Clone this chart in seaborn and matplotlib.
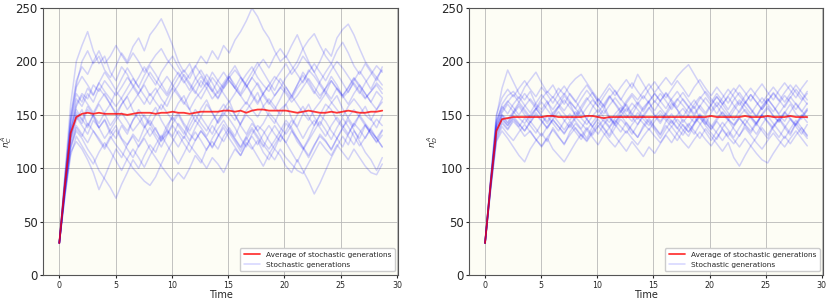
import numpy as np
import pandas as pd
import seaborn as sns
from matplotlib import pyplot as plt

# end time of the simulated runs (x axis)
t_end = 28.7

# average of the stochastic runs, read every 0.5 time unit
avg_c = [30, 85, 133, 148, 151, 152, 151, 152, 151, 151,
         151, 151, 150, 151, 152, 152, 152, 151, 152, 152,
         153, 152, 152, 151, 152, 153, 153, 153, 153, 154,
         154, 153, 154, 152, 154, 155, 155, 154, 154, 154,
         154, 153, 152, 153, 154, 153, 152, 152, 153, 152,
         153, 154, 153, 152, 152, 153, 153, 154]
avg_d = [30, 86, 135, 146, 147, 148, 148, 148, 148, 148,
         148, 149, 149, 148, 148, 148, 148, 148, 149, 149,
         148, 147, 148, 148, 148, 148, 148, 148, 148, 148,
         148, 148, 148, 148, 148, 148, 148, 148, 148, 148,
         149, 148, 148, 148, 148, 148, 149, 148, 148, 148,
         149, 148, 148, 148, 149, 148, 148, 148]

# individual stochastic generations (estimated), n_C^A
runs_c = [
    [30, 90, 145, 178, 200, 210, 198, 205, 192, 185,
     196, 208, 200, 214, 222, 210, 225, 232, 240, 228,
     215, 200, 190, 198, 185, 176, 188, 180, 170, 178,
     186, 175, 168, 160, 172, 180, 170, 162, 155, 165,
     176, 168, 178, 190, 182, 172, 165, 175, 186, 178,
     168, 175, 184, 176, 166, 172, 180, 174],
    [30, 78, 120, 135, 128, 118, 110, 98, 90, 82,
     72, 85, 96, 108, 100, 112, 122, 115, 128, 136,
     130, 142, 135, 126, 138, 148, 140, 132, 145, 152,
     146, 138, 128, 120, 132, 140, 135, 126, 118, 130,
     142, 136, 125, 118, 128, 140, 150, 144, 135, 128,
     120, 132, 142, 136, 128, 138, 146, 140],
    [30, 85, 132, 160, 170, 165, 178, 172, 182, 175,
     168, 176, 185, 178, 170, 180, 190, 182, 175, 168,
     176, 185, 192, 184, 195, 205, 198, 210, 202, 215,
     208, 220, 228, 238, 250, 242, 230, 222, 210, 200,
     205, 196, 188, 180, 192, 186, 178, 170, 182, 175,
     168, 176, 185, 178, 170, 162, 172, 166],
    [30, 82, 128, 150, 142, 155, 148, 138, 146, 135,
     128, 140, 132, 145, 152, 140, 130, 138, 126, 132,
     142, 150, 140, 132, 126, 135, 128, 120, 130, 138,
     128, 120, 112, 124, 118, 126, 115, 108, 118, 112,
     102, 96, 108, 98, 88, 76, 86, 98, 110, 120,
     130, 122, 135, 128, 140, 132, 125, 135],
    [30, 86, 138, 165, 158, 170, 162, 175, 168, 160,
     172, 165, 155, 162, 170, 178, 168, 175, 165, 158,
     170, 178, 188, 180, 172, 165, 175, 185, 178, 170,
     162, 170, 180, 188, 195, 185, 178, 172, 182, 190,
     198, 188, 195, 205, 198, 190, 200, 212, 205, 222,
     230, 235, 225, 212, 200, 192, 185, 178],
    [30, 80, 125, 145, 155, 140, 150, 138, 145, 132,
     140, 128, 122, 130, 120, 128, 118, 110, 102, 95,
     88, 96, 90, 100, 112, 105, 118, 125, 118, 130,
     138, 130, 142, 150, 145, 135, 142, 152, 146, 138,
     132, 140, 150, 158, 148, 140, 150, 160, 155, 145,
     138, 148, 155, 148, 140, 134, 128, 136],
    [30, 95, 160, 200, 215, 228, 210, 198, 205, 190,
     182, 195, 188, 176, 185, 195, 186, 178, 190, 198,
     205, 195, 186, 178, 170, 182, 175, 165, 172, 180,
     188, 196, 186, 178, 170, 162, 170, 178, 168, 175,
     185, 192, 200, 212, 220, 226, 215, 205, 198, 210,
     218, 208, 196, 188, 198, 190, 182, 195],
    [30, 75, 115, 125, 118, 108, 96, 80, 92, 105,
     118, 110, 122, 132, 125, 138, 145, 136, 128, 140,
     148, 140, 132, 145, 155, 148, 160, 152, 142, 150,
     158, 150, 140, 132, 142, 135, 125, 118, 126, 135,
     145, 138, 128, 120, 112, 122, 130, 125, 118, 128,
     138, 145, 136, 125, 115, 108, 98, 110],
    [30, 88, 142, 170, 162, 175, 168, 180, 172, 165,
     158, 166, 175, 184, 176, 168, 160, 170, 178, 186,
     178, 170, 162, 155, 165, 172, 180, 172, 165, 175,
     182, 175, 168, 176, 185, 178, 168, 160, 168, 176,
     170, 162, 168, 176, 184, 176, 168, 175, 182, 174,
     166, 172, 180, 172, 165, 172, 178, 170],
    [30, 80, 128, 148, 140, 132, 145, 138, 128, 136,
     145, 152, 144, 135, 142, 150, 142, 132, 125, 135,
     128, 120, 130, 122, 115, 108, 100, 110, 104, 96,
     108, 118, 112, 122, 130, 122, 132, 140, 132, 125,
     135, 145, 138, 128, 138, 145, 138, 130, 140, 148,
     140, 132, 142, 150, 142, 135, 128, 120],
    [30, 84, 135, 158, 168, 160, 152, 162, 170, 160,
     152, 160, 168, 176, 168, 160, 170, 162, 155, 165,
     175, 168, 160, 170, 178, 186, 178, 190, 182, 175,
     185, 192, 185, 176, 185, 195, 202, 194, 205, 212,
     204, 215, 225, 212, 200, 190, 180, 172, 165, 175,
     168, 160, 170, 178, 170, 162, 155, 165],
    [30, 82, 130, 152, 145, 158, 150, 142, 152, 160,
     150, 142, 135, 145, 155, 148, 140, 150, 160, 152,
     145, 152, 142, 135, 145, 138, 130, 140, 132, 125,
     135, 128, 120, 130, 138, 130, 122, 115, 108, 118,
     110, 104, 98, 95, 105, 115, 125, 118, 112, 122,
     115, 108, 118, 110, 102, 96, 94, 104],
    [30, 78, 118, 138, 130, 142, 135, 128, 120, 130,
     122, 115, 108, 100, 94, 88, 84, 92, 104, 115,
     125, 135, 128, 140, 150, 142, 135, 145, 152, 160,
     152, 145, 155, 162, 155, 148, 158, 165, 158, 150,
     160, 168, 160, 152, 145, 155, 162, 170, 162, 155,
     148, 158, 165, 158, 150, 145, 155, 162],
    [30, 92, 150, 182, 195, 188, 200, 210, 198, 205,
     215, 206, 198, 208, 200, 190, 198, 206, 212, 202,
     195, 188, 180, 188, 196, 188, 180, 172, 182, 190,
     182, 175, 185, 178, 168, 160, 170, 178, 186, 180,
     172, 165, 175, 182, 190, 198, 190, 182, 192, 200,
     194, 186, 178, 170, 180, 188, 196, 190],
    [30, 84, 136, 155, 146, 138, 150, 160, 151, 140,
     148, 160, 167, 154, 146, 138, 149, 157, 145, 136,
     150, 161, 168, 155, 144, 156, 164, 152, 143, 155,
     163, 150, 141, 154, 162, 171, 158, 149, 142, 155,
     160, 147, 139, 151, 160, 148, 140, 153, 161, 168,
     156, 147, 139, 150, 158, 146, 138, 150],
    [30, 76, 122, 140, 132, 124, 135, 126, 118, 128,
     136, 127, 118, 110, 121, 130, 138, 129, 120, 131,
     140, 132, 123, 115, 126, 135, 128, 119, 130, 141,
     133, 125, 116, 127, 136, 128, 120, 131, 140, 132,
     124, 135, 128, 119, 110, 121, 132, 126, 117, 128,
     137, 130, 122, 133, 141, 132, 124, 131],
    [30, 90, 146, 176, 186, 178, 169, 180, 190, 182,
     173, 184, 194, 185, 176, 187, 196, 188, 179, 170,
     181, 190, 182, 173, 184, 192, 183, 174, 166, 177,
     186, 178, 170, 181, 190, 199, 190, 181, 173, 184,
     176, 167, 178, 187, 179, 170, 181, 190, 198, 189,
     180, 171, 182, 191, 183, 174, 185, 192],
    [30, 74, 112, 130, 121, 112, 104, 115, 124, 116,
     107, 98, 109, 118, 110, 101, 112, 122, 131, 122,
     113, 104, 114, 125, 134, 126, 117, 128, 137, 145,
     136, 127, 119, 129, 120, 111, 102, 113, 122, 131,
     124, 115, 106, 117, 126, 135, 144, 136, 127, 138,
     147, 139, 130, 121, 129, 137, 128, 120],
]

# individual stochastic generations (estimated), n_D^A
runs_d = [
    [30, 90, 148, 175, 192, 181, 170, 164, 172, 160,
     155, 163, 150, 158, 168, 161, 149, 155, 146, 157,
     165, 159, 148, 142, 153, 160, 151, 146, 157, 163,
     150, 144, 152, 161, 155, 143, 150, 158, 147, 141,
     152, 159, 150, 145, 154, 162, 153, 147, 140, 151,
     158, 149, 143, 152, 160, 151, 146, 155],
    [30, 80, 125, 135, 128, 120, 112, 106, 118, 126,
     133, 125, 138, 130, 122, 134, 142, 136, 128, 139,
     146, 138, 131, 143, 150, 142, 135, 129, 140, 147,
     139, 132, 144, 151, 143, 136, 130, 141, 148, 140,
     133, 127, 138, 145, 137, 130, 141, 149, 142, 135,
     128, 139, 146, 138, 131, 142, 150, 143],
    [30, 88, 142, 160, 168, 172, 165, 176, 183, 190,
     180, 171, 178, 168, 160, 170, 163, 155, 164, 171,
     162, 156, 166, 173, 165, 158, 150, 160, 168, 161,
     154, 163, 170, 162, 155, 148, 157, 164, 156, 150,
     159, 167, 160, 152, 145, 154, 162, 155, 148, 157,
     165, 158, 150, 144, 153, 161, 154, 147],
    [30, 82, 128, 142, 136, 144, 138, 130, 135, 127,
     120, 128, 118, 112, 106, 115, 124, 132, 126, 135,
     143, 137, 129, 138, 146, 140, 132, 141, 149, 143,
     136, 128, 137, 145, 138, 131, 140, 148, 142, 134,
     126, 135, 143, 136, 129, 138, 146, 139, 132, 141,
     149, 142, 135, 128, 137, 145, 138, 131],
    [30, 87, 140, 152, 160, 153, 162, 170, 163, 156,
     165, 172, 166, 175, 169, 178, 184, 188, 180, 172,
     165, 158, 167, 160, 152, 161, 168, 160, 153, 162,
     170, 163, 156, 165, 172, 164, 157, 149, 158, 166,
     159, 151, 160, 167, 159, 152, 161, 169, 162, 155,
     163, 171, 164, 157, 166, 174, 167, 160],
    [30, 84, 132, 147, 140, 149, 142, 135, 144, 137,
     130, 139, 146, 139, 132, 141, 134, 127, 136, 129,
     122, 131, 138, 130, 123, 116, 125, 118, 111, 120,
     114, 123, 131, 124, 133, 141, 134, 142, 150, 143,
     136, 144, 137, 130, 139, 147, 140, 133, 142, 150,
     143, 136, 129, 138, 146, 139, 132, 141],
    [30, 89, 145, 158, 151, 160, 167, 159, 152, 161,
     169, 162, 155, 163, 170, 163, 156, 165, 173, 166,
     158, 167, 175, 168, 176, 183, 175, 188, 179, 170,
     162, 170, 163, 155, 164, 171, 163, 156, 165, 172,
     165, 158, 166, 174, 167, 159, 168, 175, 168, 161,
     169, 176, 169, 162, 170, 178, 171, 164],
    [30, 86, 137, 150, 143, 152, 160, 153, 146, 155,
     162, 155, 148, 157, 164, 157, 150, 158, 166, 159,
     152, 160, 168, 161, 154, 163, 170, 164, 172, 179,
     171, 178, 185, 178, 186, 192, 197, 188, 179, 170,
     162, 170, 163, 155, 164, 171, 163, 156, 149, 158,
     165, 158, 151, 159, 167, 160, 153, 161],
    [30, 83, 130, 144, 137, 146, 139, 147, 140, 133,
     142, 149, 142, 135, 144, 151, 144, 137, 146, 139,
     132, 141, 148, 141, 134, 143, 136, 129, 138, 145,
     138, 131, 140, 133, 126, 135, 142, 135, 128, 137,
     130, 123, 116, 124, 110, 102, 112, 121, 129, 138,
     131, 140, 147, 140, 133, 142, 135, 128],
    [30, 85, 135, 149, 142, 151, 158, 150, 143, 152,
     145, 137, 146, 153, 145, 138, 147, 154, 146, 139,
     148, 155, 147, 140, 149, 156, 148, 141, 150, 157,
     149, 142, 151, 144, 137, 146, 139, 132, 141, 148,
     140, 133, 126, 134, 127, 120, 128, 121, 114, 108,
     105, 114, 122, 130, 123, 131, 138, 130],
    [30, 91, 150, 166, 174, 167, 175, 182, 174, 167,
     176, 169, 161, 170, 177, 169, 162, 171, 178, 170,
     163, 171, 179, 172, 164, 173, 180, 172, 165, 174,
     181, 173, 166, 174, 182, 175, 167, 176, 183, 175,
     168, 176, 169, 161, 170, 178, 171, 163, 172, 179,
     171, 164, 173, 180, 173, 166, 175, 182],
    [30, 86, 138, 150, 146, 153, 147, 142, 150, 156,
     149, 144, 152, 158, 151, 145, 153, 147, 141, 149,
     155, 148, 143, 151, 157, 150, 144, 152, 146, 140,
     148, 154, 147, 142, 150, 156, 149, 143, 151, 145,
     139, 147, 153, 146, 141, 149, 155, 148, 142, 150,
     156, 149, 144, 152, 146, 140, 148, 154],
    [30, 81, 126, 139, 132, 126, 134, 141, 134, 127,
     121, 129, 136, 129, 123, 131, 138, 131, 125, 133,
     140, 133, 126, 120, 128, 135, 128, 122, 130, 137,
     130, 124, 132, 139, 132, 125, 119, 127, 134, 127,
     121, 129, 136, 129, 123, 131, 138, 131, 124, 118,
     126, 133, 126, 120, 128, 135, 128, 121],
    [30, 88, 143, 156, 163, 157, 150, 158, 165, 158,
     152, 160, 167, 160, 154, 162, 156, 149, 157, 164,
     158, 151, 159, 166, 159, 153, 161, 155, 148, 156,
     163, 157, 150, 158, 165, 159, 152, 160, 167, 161,
     154, 162, 156, 149, 157, 164, 158, 151, 159, 166,
     160, 153, 161, 168, 162, 155, 163, 170],
    [30, 84, 134, 146, 140, 147, 141, 135, 143, 150,
     144, 138, 145, 139, 133, 141, 148, 142, 136, 143,
     150, 144, 138, 145, 139, 133, 141, 148, 142, 136,
     144, 151, 145, 139, 146, 140, 134, 142, 149, 143,
     137, 145, 152, 146, 140, 147, 141, 135, 143, 150,
     144, 138, 146, 153, 147, 141, 149, 156],
    [30, 87, 140, 154, 162, 169, 162, 155, 148, 156,
     149, 142, 150, 143, 136, 144, 137, 130, 138, 131,
     139, 146, 139, 147, 154, 147, 155, 162, 155, 163,
     170, 163, 171, 164, 157, 165, 158, 151, 159, 152,
     160, 167, 160, 168, 175, 168, 161, 169, 162, 155,
     163, 170, 163, 171, 178, 171, 164, 172],
]


def to_long(runs):
    # long dataframe so seaborn can draw one line per run
    frames = []
    for k, run in enumerate(runs):
        t = np.linspace(0, t_end, len(run))
        frames.append(pd.DataFrame({'Time': t, 'n': run, 'run': k}))
    return pd.concat(frames, ignore_index=True)


def panel(ax, runs, avg, ylabel):
    ax.set_facecolor('#fdfdf5')
    df = to_long(runs)
    sns.lineplot(data=df, x='Time', y='n', units='run', estimator=None,
                 color='blue', alpha=0.17, lw=1.1, ax=ax, legend=False)
    stoch = ax.lines[0]
    # average on top, a bit transparent so the blue shows through
    sns.lineplot(x=np.linspace(0, t_end, len(avg)), y=avg, color='red',
                 alpha=0.78, lw=1.3, ax=ax, legend=False, zorder=5)
    mean_line = ax.lines[-1]
    ax.set_ylim(0, 250)
    ax.set_xticks([0, 5, 10, 15, 20, 25, 30])
    ax.set_yticks([0, 50, 100, 150, 200, 250])
    ax.tick_params(axis='x', labelsize=5.7, length=2.5, pad=1.5)
    ax.tick_params(axis='y', labelsize=8.5, length=2.5, pad=1.5)
    ax.set_xlabel('Time', fontsize=7, labelpad=0)
    ax.set_ylabel(ylabel, fontsize=6.5, labelpad=1)
    ax.grid(True, color='#b8b8b8', lw=0.6)
    for s in ax.spines.values():
        s.set_color('#555555')
        s.set_linewidth(0.8)
    ax.legend([mean_line, stoch],
              ['Average of stochastic generations', 'Stochastic generations'],
              loc='lower right', fontsize=5.3, frameon=True, framealpha=1,
              edgecolor='#cccccc', handlelength=2.2, borderpad=0.5)


sns.set_style('ticks')
plt.rcParams['font.family'] = ['DejaVu Sans']

fig = plt.figure(figsize=(8.3, 3.0), dpi=100)
ax1 = fig.add_axes([0.052, 0.083, 0.428, 0.89])
ax2 = fig.add_axes([0.565, 0.083, 0.427, 0.89])

panel(ax1, runs_c, avg_c, r'$n_C^A$')
panel(ax2, runs_d, avg_d, r'$n_D^A$')

fig.savefig('out.png', dpi=100)
